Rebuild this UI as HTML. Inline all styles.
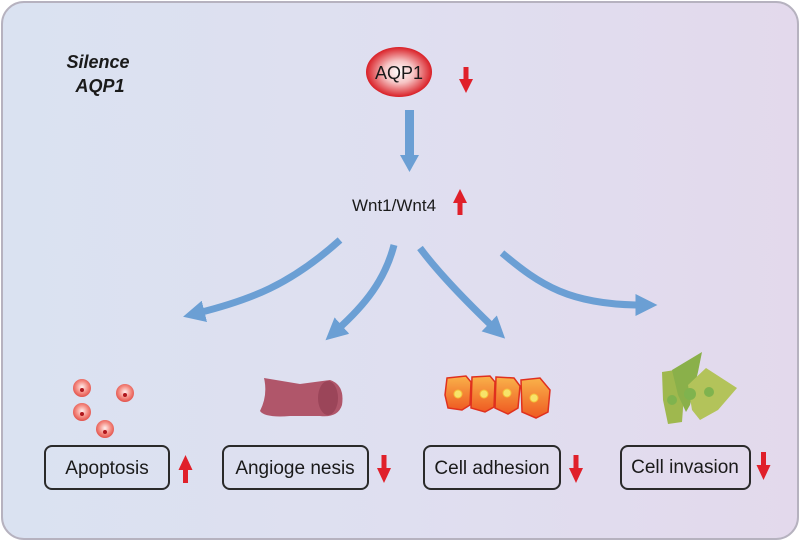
<!DOCTYPE html>
<html><head><style>
html,body{margin:0;padding:0;background:#fff;width:800px;height:541px;overflow:hidden}
svg{display:block}
text{font-family:"Liberation Sans",Arial,sans-serif;fill:#1a1a1a}
</style></head><body>
<svg width="800" height="541" viewBox="0 0 800 541" xmlns="http://www.w3.org/2000/svg">
<defs>
<linearGradient id="bg" x1="0" x2="1" y1="0" y2="0">
<stop offset="0" stop-color="#dae2f1"/><stop offset="0.5" stop-color="#dfdff0"/><stop offset="1" stop-color="#e3d9ec"/>
</linearGradient>
<radialGradient id="aqp" cx="0.5" cy="0.5" r="0.5">
<stop offset="0" stop-color="#ffffff"/><stop offset="0.45" stop-color="#f6c4c4"/><stop offset="1" stop-color="#d91f26"/>
</radialGradient>
<radialGradient id="cellr" cx="0.5" cy="0.45" r="0.55">
<stop offset="0" stop-color="#fff0ee"/><stop offset="0.6" stop-color="#f48a80"/><stop offset="1" stop-color="#e2514a"/>
</radialGradient>
<linearGradient id="ora" x1="0" x2="0" y1="0" y2="1">
<stop offset="0" stop-color="#f9b24a"/><stop offset="1" stop-color="#ef5a22"/>
</linearGradient>
<marker id="ah" viewBox="0 0 10 10" refX="3" refY="5" markerWidth="22" markerHeight="22" markerUnits="userSpaceOnUse" orient="auto">
<path d="M0,0 L10,5 L0,10 Z" fill="#6b9fd4"/>
</marker>
</defs>
<rect x="2" y="2" width="796" height="537" rx="22" fill="url(#bg)" stroke="#b6b2bf" stroke-width="2"/>

<text x="98" y="68" font-size="18" font-weight="bold" font-style="italic" text-anchor="middle">Silence</text>
<text x="100" y="92" font-size="18" font-weight="bold" font-style="italic" text-anchor="middle">AQP1</text>

<ellipse cx="399" cy="72" rx="33" ry="25" fill="url(#aqp)"/>
<text x="399" y="79" font-size="18" text-anchor="middle">AQP1</text>
<g fill="#e0202a">
<rect x="463.5" y="67" width="5" height="14"/><path d="M459,79 L473,79 L466,93 Z"/>
</g>

<rect x="405" y="110" width="9" height="46" fill="#6b9fd4"/>
<path d="M400,155 L419,155 L409.5,172 Z" fill="#6b9fd4"/>

<text x="394" y="211" font-size="17" text-anchor="middle">Wnt1/Wnt4</text>
<g fill="#e0202a">
<rect x="457.5" y="201" width="5" height="14"/><path d="M453,203 L467,203 L460,189 Z"/>
</g>

<g fill="none" stroke="#6b9fd4" stroke-width="7" marker-end="url(#ah)">
<path d="M340,240 C290,285 250,300 198,313"/>
<path d="M394,245 C385,280 365,305 337,330"/>
<path d="M420,248 C440,275 470,305 494,328"/>
<path d="M502,253 C540,285 570,305 642,305"/>
</g>

<g>
<circle cx="82" cy="388" r="9" fill="url(#cellr)"/><circle cx="82" cy="390" r="2" fill="#b0171c"/>
<circle cx="125" cy="393" r="9" fill="url(#cellr)"/><circle cx="125" cy="395" r="2" fill="#b0171c"/>
<circle cx="82" cy="412" r="9" fill="url(#cellr)"/><circle cx="82" cy="414" r="2" fill="#b0171c"/>
<circle cx="105" cy="429" r="9" fill="url(#cellr)"/><circle cx="105" cy="432" r="2" fill="#b0171c"/>
</g>
<path d="M264,378 L300,384 L330,380 Q345,385 342,405 Q338,418 320,416 L290,416 Q265,418 260,411 Q268,395 264,378 Z" fill="#b0566a"/>
<ellipse cx="328" cy="398" rx="10" ry="17" fill="#9b4559"/>
<g stroke="#e0301e" stroke-width="1.5" fill="url(#ora)">
<path d="M447,378 L466,376 L471,382 L470,405 L462,410 L448,408 L445,395 Z"/>
<path d="M472,377 L490,376 L495,382 L494,407 L485,412 L471,408 Z"/>
<path d="M496,377 L514,378 L520,386 L518,408 L508,414 L495,408 Z"/>
<path d="M521,380 L540,378 L550,390 L548,412 L536,418 L522,412 Z"/>
</g>
<g fill="#f7e36a" stroke="#f4c23a"><circle cx="458" cy="394" r="4"/><circle cx="484" cy="394" r="4"/><circle cx="507" cy="393" r="4"/><circle cx="534" cy="398" r="4"/></g>
<g>
<path d="M662,372 L675,370 L684,395 L682,422 L668,424 L663,400 Z" fill="#9fb84e"/>
<path d="M672,370 L702,352 L698,372 L690,405 L686,412 L678,395 Z" fill="#8ab04a"/>
<path d="M688,385 L706,368 L737,388 L718,410 L700,420 L692,410 Z" fill="#b3c35a"/>
</g>
<g fill="#7fb34e"><circle cx="672" cy="400" r="5"/><circle cx="690" cy="394" r="6"/><circle cx="709" cy="392" r="5"/></g>

<g fill="none" stroke="#2a2a2a" stroke-width="2">
<rect x="45" y="446" width="124" height="43" rx="7"/>
<rect x="223" y="446" width="145" height="43" rx="7"/>
<rect x="424" y="446" width="136" height="43" rx="7"/>
<rect x="621" y="446" width="129" height="43" rx="7"/>
</g>
<g font-size="19" text-anchor="middle">
<text x="107" y="474">Apoptosis</text>
<text x="295" y="474">Angioge nesis</text>
<text x="492" y="474">Cell adhesion</text>
<text x="685" y="473">Cell invasion</text>
</g>
<g fill="#e0202a">
<rect x="183" y="468" width="5" height="15"/><path d="M178.5,470 L192.5,470 L185.5,455 Z"/>
<rect x="381.5" y="455" width="5" height="15"/><path d="M377,468 L391,468 L384,483 Z"/>
<rect x="573.5" y="455" width="5" height="15"/><path d="M569,468 L583,468 L576,483 Z"/>
<rect x="761" y="452" width="5" height="15"/><path d="M756.5,465 L770.5,465 L763.5,480 Z"/>
</g>
</svg>
</body></html>
